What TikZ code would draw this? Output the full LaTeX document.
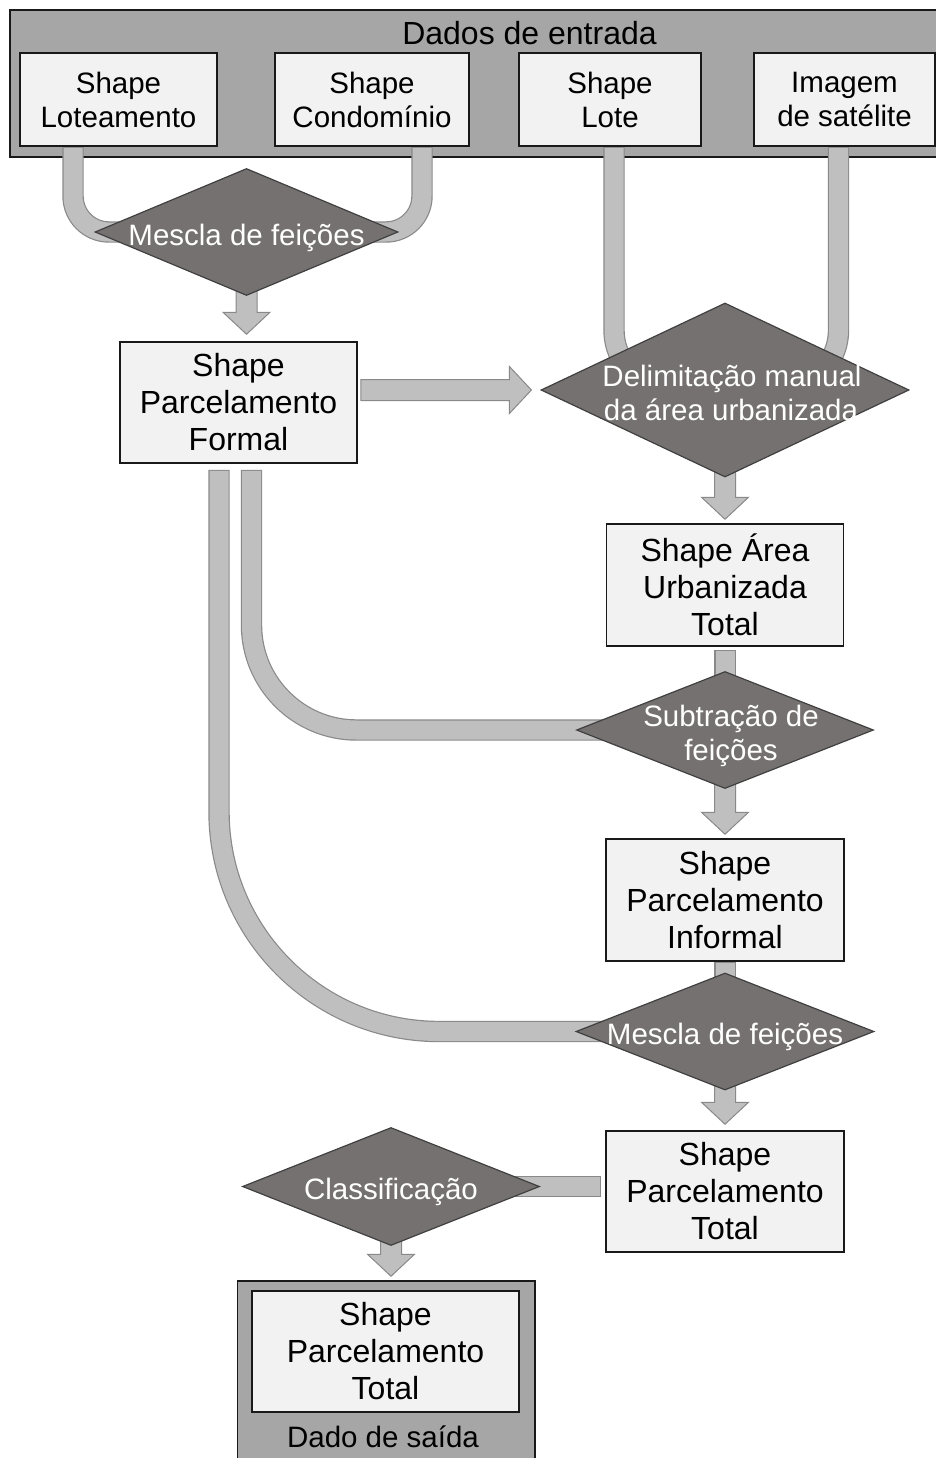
\documentclass[tikz,border=0pt]{standalone}
\usepackage{mathtools}
\usepackage{fontspec}
\setmainfont{Liberation Sans}
\usetikzlibrary{%
  calc,% arrow outlines
  shapes.geometric% diamond
}
\definecolor{framegray}{HTML}{A6A6A6}
\definecolor{boxgray}{HTML}{F2F2F2}
\definecolor{stepgray}{HTML}{767171}
\definecolor{bandgray}{HTML}{BFBFBF}
\definecolor{bandedge}{HTML}{898989}
\pgfdeclarelayer{frames}
\pgfdeclarelayer{links}
\pgfsetlayers{frames,links,main}

\begin{document}
\begin{tikzpicture}[
    x=1pt, y=1pt,
    frame/.style={rectangle, draw=black!90, line width=1.5pt, fill=framegray},
    data/.style={rectangle, draw=black!90, line width=1.5pt, fill=boxgray,
      align=center, inner sep=0pt, font=\fontsize{32pt}{37pt}\selectfont},
    input/.style={data, font=\fontsize{29.5pt}{34pt}\selectfont},
    process/.style={diamond, aspect=1, draw=black!75, line width=1.2pt,
      fill=stepgray, text=white, align=center, inner sep=0pt,
      text height=26pt, text depth=0pt, font=\fontsize{29.5pt}{34pt}\selectfont},
    twolines/.style={text height=60pt},
    band/.style={line width=19pt, draw=bandgray, shorten <=1.2pt,
      preaction={draw=bandedge, line width=21.4pt, shorten <=0pt}},
    flow/.style={fill=bandgray, draw=bandedge, line width=1pt,
      to path={($(\tikztostart)!10.5pt!-90:(\tikztotarget)$)
        -- ($(\tikztotarget)!22pt!(\tikztostart)!10.5pt!90:(\tikztostart)$)
        -- ($(\tikztotarget)!22pt!(\tikztostart)!23.5pt!90:(\tikztostart)$)
        -- (\tikztotarget)
        -- ($(\tikztotarget)!22pt!(\tikztostart)!23.5pt!-90:(\tikztostart)$)
        -- ($(\tikztotarget)!22pt!(\tikztostart)!10.5pt!-90:(\tikztostart)$)
        -- ($(\tikztostart)!10.5pt!90:(\tikztotarget)$) -- cycle}}
  ]
  \useasboundingbox (0,0) rectangle (936,-1458);

  % input and output frames
  \begin{pgfonlayer}{frames}
    \node[frame, minimum width=928pt, minimum height=147pt] at (474,-83.5) (inframe) {};
    \node[frame, minimum width=297.5pt, minimum height=190pt] at (386.25,-1376) (outframe) {};
  \end{pgfonlayer}
  \node[font=\fontsize{32pt}{37pt}\selectfont, anchor=base] at (529.5,-45) (intitle) {Dados de entrada};
  \node[font=\fontsize{29.5pt}{34pt}\selectfont, anchor=base] at (383,-1447) (outtitle) {Dado de saída};

  % input data
  \node[input, minimum width=197pt, minimum height=93pt] at (118.5,-99.5) (lot) {Shape\\Loteamento};
  \node[input, minimum width=194pt, minimum height=93pt] at (372,-99.5) (cond) {Shape\\Condomínio};
  \node[input, minimum width=182pt, minimum height=93pt] at (610,-99.5) (lote) {Shape\\Lote};
  \node[input, minimum width=181pt, minimum height=93pt] at (844.5,-99.5) (img) {Imagem\\de satélite};

  % processing steps
  \node[process, minimum width=303pt, minimum height=127pt] at (246.5,-232) (mix1) {\clap{Mescla de feições}};
  \node[process, twolines, minimum width=368pt, minimum height=174pt] at (725,-390) (delim) {\clap{\kern14pt Delimitação manual}\\\clap{\kern12pt da área urbanizada}};
  \node[process, twolines, minimum width=297pt, minimum height=117pt] at (725,-730) (subtr) {\clap{\kern12pt Subtração de}\\\clap{\kern12pt feições}};
  \node[process, minimum width=298pt, minimum height=117pt] at (725,-1031.5) (mix2) {\clap{Mescla de feições}};
  \node[process, minimum width=297pt, minimum height=118pt] at (391,-1186.5) (class) {\clap{Classificação}};

  % intermediate and final shapes
  \node[data, minimum width=237pt, minimum height=121pt] at (238.5,-402.5) (formal) {Shape\\Parcelamento\\Formal};
  \node[data, minimum width=237pt, minimum height=122pt] at (725,-585) (area) {Shape Área\\Urbanizada\\Total};
  \node[data, minimum width=238pt, minimum height=122pt] at (725,-900) (informal) {Shape\\Parcelamento\\Informal};
  \node[data, minimum width=238pt, minimum height=121pt] at (725,-1191.5) (total) {Shape\\Parcelamento\\Total};
  \node[data, minimum width=267pt, minimum height=121pt] at (385.5,-1351.5) (result) {Shape\\Parcelamento\\Total};

  \begin{pgfonlayer}{links}
    % bands into the steps
    \draw[band, rounded corners=36pt] ([xshift=-45.5pt]lot.south) |- (mix1.center);
    \draw[band, rounded corners=36pt] ([xshift=50pt]cond.south) |- (mix1.center);
    \draw[band, rounded corners=60pt] ([xshift=4pt]lote.south) |- (delim.center);
    \draw[band, rounded corners=60pt] ([xshift=-6pt]img.south) |- (delim.center);
    \draw[band, rounded corners=105pt] ([xshift=13pt,yshift=-6pt]formal.south) |- (subtr.center);
    \draw[band, rounded corners=220pt] ([xshift=-19.5pt,yshift=-6pt]formal.south) |- (mix2.center);
    \draw[band] ([yshift=-3pt]area.south) -- (subtr.center);
    \draw[band] (informal.south) -- (mix2.center);
    \draw[band] ($(total.west |- class.center)+(-4,0)$) -- (class.center);

    % block arrows out of the steps
    \coordinate (formal-in) at ($(formal.north -| mix1.center)+(0,7)$);
    \coordinate (formal-out) at ($(formal.east |- delim.center)+(3,0)$);
    \coordinate (delim-in) at ($(delim.west)+(-9,0)$);
    \coordinate (area-in) at ($(area.north)+(0,4)$);
    \coordinate (informal-in) at ($(informal.north)+(0,4)$);
    \coordinate (total-in) at ($(total.north)+(0,6)$);
    \coordinate (result-in) at ($(outframe.north -| class.center)+(0,4)$);
    \draw[flow] (mix1.center) to (formal-in);
    \draw[flow] (formal-out) to (delim-in);
    \draw[flow] (delim.center) to (area-in);
    \draw[flow] (subtr.center) to (informal-in);
    \draw[flow] (mix2.center) to (total-in);
    \draw[flow] (class.center) to (result-in);
  \end{pgfonlayer}
\end{tikzpicture}
\end{document}
